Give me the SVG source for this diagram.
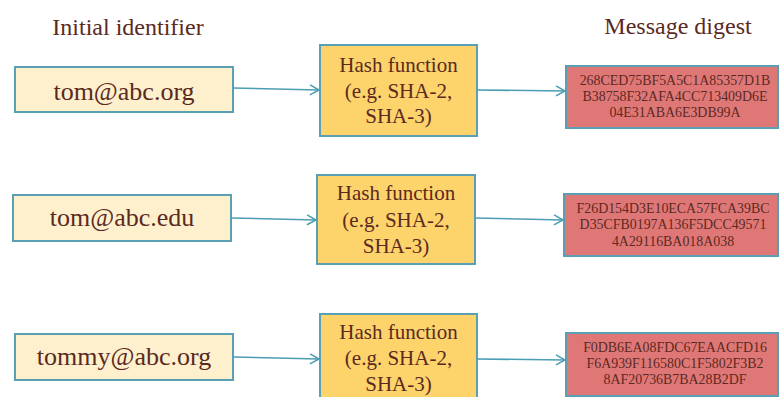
<svg xmlns="http://www.w3.org/2000/svg" width="779" height="397" viewBox="0 0 779 397">
<defs>
<marker id="arr" markerWidth="12" markerHeight="12" refX="10" refY="6" orient="auto" markerUnits="userSpaceOnUse">
<path d="M1,1 L10,6 L1,11" fill="none" stroke="#4b9db3" stroke-width="1.5"/>
</marker>
</defs>
<style>
text{fill:#5b2a1f;text-anchor:middle}
.title{font-size:24px}
.in{fill:#fff0cd;stroke:#5aa0b4;stroke-width:2}
.hash{fill:#fdd36c;stroke:#5aa0b4;stroke-width:2}
.dig{fill:#e07777;stroke:#5aa0b4;stroke-width:2}
.tin{font-size:26px}
.th{font-size:21px}
.td{font-size:13.9px}
.conn line{stroke:#4b9db3;stroke-width:1.5;marker-end:url(#arr)}
</style>
<rect width="779" height="397" fill="#ffffff"/>
<g font-family="'Liberation Serif', 'DejaVu Serif', serif">
<text class="title" x="128" y="35">Initial identifier</text>
<text class="title" x="678" y="34">Message digest</text>

<g id="in1"><rect class="in" x="15" y="67" width="218" height="45"/><text class="tin" x="124" y="100">tom@abc.org</text></g>
<g id="in2"><rect class="in" x="13" y="195" width="218" height="46"/><text class="tin" x="122" y="226">tom@abc.edu</text></g>
<g id="in3"><rect class="in" x="15" y="334" width="218" height="46"/><text class="tin" x="124" y="365">tommy@abc.org</text></g>

<g id="hash1"><rect class="hash" x="320" y="45" width="157" height="91"/>
<text class="th" x="398.500" y="72">Hash function</text><text class="th" x="398.500" y="98">(e.g. SHA-2,</text><text class="th" x="398.500" y="123">SHA-3)</text></g>
<g id="hash2"><rect class="hash" x="317" y="175" width="158" height="89"/>
<text class="th" x="396" y="200">Hash function</text><text class="th" x="396" y="227">(e.g. SHA-2,</text><text class="th" x="396" y="253">SHA-3)</text></g>
<g id="hash3"><rect class="hash" x="320" y="314" width="157" height="90"/>
<text class="th" x="398.500" y="339">Hash function</text><text class="th" x="398.500" y="365">(e.g. SHA-2,</text><text class="th" x="398.500" y="391">SHA-3)</text></g>

<g id="dig1"><rect class="dig" x="566" y="66" width="212" height="62"/>
<text class="td" x="675" y="85">268CED75BF5A5C1A85357D1B</text><text class="td" x="675" y="101">B38758F32AFA4CC713409D6E</text><text class="td" x="675" y="117">04E31ABA6E3DB99A</text></g>
<g id="dig2"><rect class="dig" x="564" y="194" width="214" height="62"/>
<text class="td" x="673" y="213">F26D154D3E10ECA57FCA39BC</text><text class="td" x="673" y="229">D35CFB0197A136F5DCC49571</text><text class="td" x="673" y="246">4A29116BA018A038</text></g>
<g id="dig3"><rect class="dig" x="566" y="333" width="212" height="63"/>
<text class="td" x="675" y="352">F0DB6EA08FDC67EAACFD16</text><text class="td" x="675" y="368">F6A939F116580C1F5802F3B2</text><text class="td" x="675" y="384">8AF20736B7BA28B2DF</text></g>
</g>
<g class="conn">
<line x1="233" y1="88" x2="319" y2="90"/>
<line x1="477" y1="90" x2="565" y2="91"/>
<line x1="231" y1="218" x2="316" y2="220"/>
<line x1="475" y1="218" x2="563" y2="220"/>
<line x1="233" y1="357" x2="319" y2="359"/>
<line x1="477" y1="359" x2="565" y2="360"/>
</g>
</svg>
